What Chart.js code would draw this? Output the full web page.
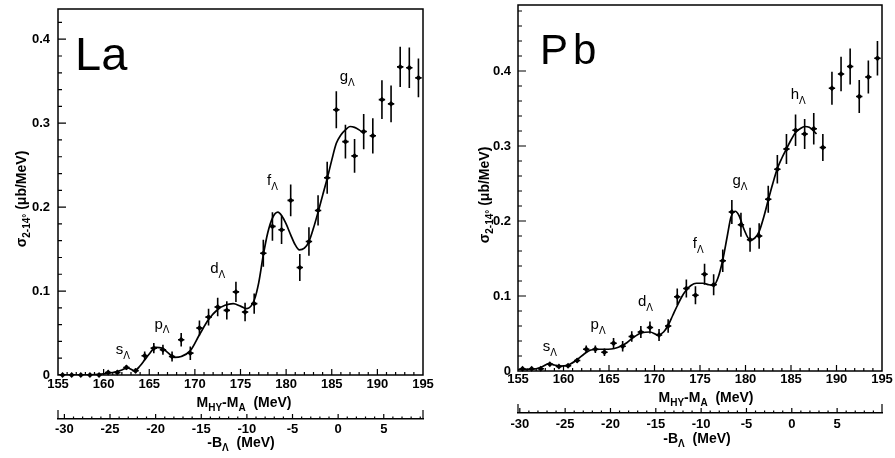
<!DOCTYPE html>
<html>
<head>
<meta charset="utf-8">
<script src="https://cdn.jsdelivr.net/npm/chart.js@4.4.0/dist/chart.umd.min.js"></script>
<style>
    html, body { margin: 0; padding: 0; background: #fff; }
    .row { display: flex; width: 895px; height: 458px; }
    .panel { position: relative; height: 458px; }
</style>
</head>
<body>
<div class="row">
    <div class="panel"><canvas id="la-chart" width="450" height="458"></canvas></div>
    <div class="panel"><canvas id="pb-chart" width="445" height="458"></canvas></div>
</div>
<script>
// 1 MeV bins of the missing-mass spectrum, M_HY - M_A (MeV)
const binCenters = [
    155.5, 156.5, 157.5, 158.5, 159.5, 160.5, 161.5, 162.5, 163.5, 164.5,
    165.5, 166.5, 167.5, 168.5, 169.5, 170.5, 171.5, 172.5, 173.5, 174.5,
    175.5, 176.5, 177.5, 178.5, 179.5, 180.5, 181.5, 182.5, 183.5, 184.5,
    185.5, 186.5, 187.5, 188.5, 189.5, 190.5, 191.5, 192.5, 193.5, 194.5,
];
const binHalfWidth = 0.35;

// labelled ticks
const massTicks = [155, 160, 165, 170, 175, 180, 185, 190, 195];
const bindingTicks = [-30, -25, -20, -15, -10, -5, 0, 5];
const sigmaTicks = [0, 0.1, 0.2, 0.3, 0.4];

// La target: cross section (ub/MeV) and errors
const laSigma = [
    0, 0, 0, 0, 0, 0.003, 0.003, 0.009, 0.005, 0.023,
    0.032, 0.030, 0.022, 0.042, 0.026, 0.056, 0.069, 0.081, 0.077, 0.099,
    0.075, 0.085, 0.145, 0.177, 0.173, 0.208, 0.128, 0.159, 0.196, 0.235,
    0.316, 0.278, 0.261, 0.290, 0.285, 0.328, 0.323, 0.367, 0.366, 0.354,
];
const laErr = [
    0.001, 0.001, 0.001, 0.001, 0.001, 0.002, 0.002, 0.003, 0.003, 0.005,
    0.006, 0.006, 0.006, 0.008, 0.008, 0.009, 0.010, 0.011, 0.011, 0.012,
    0.011, 0.012, 0.016, 0.017, 0.017, 0.019, 0.016, 0.017, 0.018, 0.019,
    0.022, 0.020, 0.020, 0.021, 0.021, 0.023, 0.022, 0.024, 0.024, 0.023,
];
// La fitted curve
const laFitX = [
    155, 157, 159, 160, 161, 162, 162.6, 163.4, 164, 164.5, 165, 165.7, 166.4, 167,
    167.8, 168.5, 169.5, 170.5, 171.5, 172.5, 173.3, 174.2, 175, 175.7, 176.5, 177,
    177.5, 178, 178.5, 179.1, 179.5, 180, 180.5, 181, 181.45, 182, 182.5, 183, 183.5,
    184, 184.5, 185, 185.5, 186, 186.5, 187, 187.5, 188, 188.5,
];
const laFitY = [
    0, 0, 0.0005, 0.0015, 0.003, 0.006, 0.0085, 0.005, 0.011, 0.018, 0.025, 0.033, 0.032, 0.027,
    0.021, 0.022, 0.029, 0.048, 0.066, 0.078, 0.083, 0.085, 0.082, 0.079, 0.089, 0.11,
    0.143, 0.17, 0.187, 0.194, 0.19, 0.18, 0.167, 0.155, 0.149, 0.151, 0.159, 0.175, 0.194,
    0.214, 0.234, 0.256, 0.276, 0.286, 0.292, 0.296, 0.295, 0.292, 0.288,
];
const laShellNames = ['s', 'p', 'd', 'f', 'g'];
const laShellX = [162.1, 166.4, 172.5, 178.5, 186.7];
const laShellY = [0.029, 0.059, 0.125, 0.230, 0.354];

// Pb target
const pbSigma = [
    0.003, 0.003, 0.003, 0.009, 0.006, 0.007, 0.014, 0.029, 0.029, 0.025,
    0.037, 0.033, 0.046, 0.052, 0.058, 0.048, 0.060, 0.099, 0.110, 0.101,
    0.129, 0.115, 0.147, 0.212, 0.195, 0.175, 0.180, 0.229, 0.269, 0.296,
    0.321, 0.316, 0.323, 0.298, 0.377, 0.396, 0.406, 0.366, 0.392, 0.417,
];
const pbErr = [
    0.001, 0.001, 0.001, 0.002, 0.002, 0.002, 0.003, 0.005, 0.005, 0.005,
    0.007, 0.007, 0.007, 0.008, 0.008, 0.008, 0.009, 0.011, 0.012, 0.012,
    0.014, 0.014, 0.015, 0.016, 0.016, 0.016, 0.017, 0.018, 0.019, 0.020,
    0.021, 0.020, 0.021, 0.018, 0.022, 0.023, 0.024, 0.022, 0.022, 0.023,
];
const pbFitX = [
    155, 156, 157, 157.7, 158.4, 159, 159.6, 160.5, 161.5, 162.3, 163, 164, 164.9, 165.6,
    166.3, 167, 167.7, 168.6, 169.5, 170.4, 171, 171.5, 172, 172.5, 173, 173.5, 174,
    174.6, 175.3, 176, 176.5, 177, 177.5, 178, 178.4, 178.85, 179.3, 179.8, 180.5, 181,
    181.5, 182, 182.5, 183, 183.5, 184, 184.5, 185, 185.5, 186, 186.5, 187, 187.5, 187.8,
];
const pbFitY = [
    0.002, 0.002, 0.003, 0.006, 0.010, 0.008, 0.0065, 0.008, 0.015, 0.023, 0.028, 0.029, 0.029, 0.030,
    0.033, 0.038, 0.045, 0.051, 0.052, 0.048, 0.052, 0.061, 0.074, 0.087, 0.099, 0.108, 0.114,
    0.117, 0.117, 0.115, 0.114, 0.125, 0.148, 0.18, 0.205, 0.213, 0.207, 0.19, 0.175, 0.177,
    0.186, 0.205, 0.228, 0.25, 0.27, 0.284, 0.296, 0.308, 0.318, 0.323, 0.326, 0.325, 0.32, 0.316,
];
const pbShellNames = ['s', 'p', 'd', 'f', 'g', 'h'];
const pbShellX = [158.5, 163.8, 169.0, 174.8, 179.4, 185.8];
const pbShellY = [0.031, 0.060, 0.091, 0.168, 0.252, 0.367];

const FAMILY = '"Liberation Sans", Arial, Helvetica, sans-serif';
const tickFont = { family: FAMILY, size: 13, weight: 'bold' };

function verticalBars(sigma, err) {
    const pts = [];
    binCenters.forEach((x, i) => {
        pts.push({ x, y: sigma[i] - err[i] }, { x, y: sigma[i] + err[i] }, { x, y: null });
    });
    return pts;
}

function horizontalBars(sigma) {
    const pts = [];
    binCenters.forEach((x, i) => {
        pts.push({ x: x - binHalfWidth, y: sigma[i] }, { x: x + binHalfWidth, y: sigma[i] }, { x, y: null });
    });
    return pts;
}

function fontStr(size, weight) {
    return `${weight || 'bold'} ${size}px ${FAMILY}`;
}

// text with subscripts, centred on (cx, cy)
function drawRich(ctx, parts, cx, cy, size, weight) {
    const small = Math.round(size * 0.68);
    const widths = parts.map(([t, kind]) => {
        ctx.font = fontStr(kind ? small : size, weight);
        return ctx.measureText(t).width;
    });
    let x = cx - widths.reduce((a, b) => a + b, 0) / 2;
    const base = cy + size * 0.36;
    ctx.textAlign = 'left';
    ctx.textBaseline = 'alphabetic';
    parts.forEach(([t, kind], i) => {
        ctx.font = fontStr(kind ? small : size, weight);
        const dy = kind === 'sub' ? size * 0.3 : 0;
        ctx.fillText(t, x, base + dy);
        x += widths[i];
    });
}

function fixedTicks(values) {
    return scale => { scale.ticks = values.map(value => ({ value })); };
}

function makeDecor(cfg) {
    return {
        id: 'panelDecor',
        afterDraw(chart) {
            const { ctx, chartArea: area, scales } = chart;
            const xs = scales.x, ys = scales.y, bs = scales.binding;
            ctx.save();
            ctx.strokeStyle = '#000';
            ctx.fillStyle = '#000';

            // frame
            ctx.lineWidth = 1.5;
            ctx.strokeRect(area.left, area.top, area.right - area.left, area.bottom - area.top);

            // inward ticks: 1 MeV minor, 5 MeV major
            ctx.lineWidth = 1.2;
            ctx.beginPath();
            for (let k = 1; k < 40; k++) {
                const px = xs.getPixelForValue(155 + k);
                const len = k % 5 === 0 ? 6 : 3;
                ctx.moveTo(px, area.bottom);
                ctx.lineTo(px, area.bottom - len);
            }
            for (let k = 1; k * 0.02 < ys.max; k++) {
                const py = ys.getPixelForValue(k * 0.02);
                const len = k % 5 === 0 ? 8 : 4;
                ctx.moveTo(area.left, py);
                ctx.lineTo(area.left + len, py);
            }
            // binding-energy axis ticks point up from its line
            const by = bs.top;
            for (let v = Math.ceil(bs.min); v <= bs.max; v++) {
                const px = bs.getPixelForValue(v);
                const len = v % 5 === 0 ? 5 : 2.5;
                ctx.moveTo(px, by);
                ctx.lineTo(px, by - len);
            }
            [bs.min, bs.max].forEach(v => {
                const px = bs.getPixelForValue(v);
                ctx.moveTo(px, by);
                ctx.lineTo(px, by - 9);
            });
            ctx.stroke();

            // axis titles
            drawRich(ctx, [['M'], ['HY', 'sub'], ['-M'], ['A', 'sub'], ['  (MeV)']], cfg.xTitleX, cfg.xTitleY, 14);
            drawRich(ctx, [['-B'], ['\u039B', 'sub'], ['  (MeV)']], cfg.bTitleX, cfg.bTitleY, 14);
            ctx.save();
            ctx.translate(cfg.yTitleX, cfg.yTitleY);
            ctx.rotate(-Math.PI / 2);
            drawRich(ctx, [['\u03C3'], ['2-14\u00B0', 'sub'], [' (\u03BCb/MeV)']], 0, 0, 14);
            ctx.restore();

            // shell labels
            cfg.shellNames.forEach((name, i) => {
                const px = xs.getPixelForValue(cfg.shellX[i]);
                const py = ys.getPixelForValue(cfg.shellY[i]);
                drawRich(ctx, [[name], ['\u039B', 'sub']], px, py - 2, 15, 'normal');
            });

            // target nucleus
            ctx.font = fontStr(cfg.tagSize, 'normal');
            ctx.textAlign = 'left';
            ctx.textBaseline = 'alphabetic';
            ctx.letterSpacing = cfg.tagSpacing || '0px';
            ctx.fillText(cfg.tag, cfg.tagX, cfg.tagY);
            ctx.restore();
        },
    };
}

function makePanel(canvasId, data, cfg) {
    const lineStyle = {
        type: 'line',
        borderColor: '#000',
        pointRadius: 0,
        pointHoverRadius: 0,
        fill: false,
        spanGaps: false,
    };
    new Chart(document.getElementById(canvasId), {
        type: 'line',
        data: {
            datasets: [
                {
                    ...lineStyle,
                    data: data.fitX.map((x, i) => ({ x, y: data.fitY[i] })),
                    borderWidth: 1.7,
                    cubicInterpolationMode: 'monotone',
                },
                { ...lineStyle, data: verticalBars(data.sigma, data.err), borderWidth: 1.6 },
                { ...lineStyle, data: horizontalBars(data.sigma), borderWidth: 1.6 },
                {
                    type: 'line',
                    showLine: false,
                    data: binCenters.map((x, i) => ({ x, y: data.sigma[i] })),
                    pointStyle: 'rectRot',
                    pointRadius: 2.9,
                    pointBackgroundColor: '#000',
                    pointBorderWidth: 0,
                    clip: false,
                },
            ],
        },
        options: {
            responsive: false,
            animation: false,
            devicePixelRatio: 1,
            events: [],
            layout: { padding: cfg.padding },
            plugins: { legend: { display: false }, tooltip: { enabled: false } },
            scales: {
                x: {
                    type: 'linear',
                    position: 'bottom',
                    min: 155,
                    max: 195,
                    grid: { drawOnChartArea: false, drawTicks: false },
                    border: { display: false },
                    afterBuildTicks: fixedTicks(massTicks),
                    ticks: {
                        maxRotation: 0, autoSkip: false,
                        color: '#000', font: tickFont, padding: cfg.xTickPad,
                    },
                    afterFit: s => { s.height = cfg.xHeight; s.paddingLeft = 0; s.paddingRight = 0; },
                },
                binding: {
                    type: 'linear',
                    position: 'bottom',
                    min: cfg.bMin,
                    max: cfg.bMax,
                    grid: { drawOnChartArea: false, drawTicks: false },
                    border: { display: true, color: '#000', width: 1.5 },
                    afterBuildTicks: fixedTicks(bindingTicks),
                    ticks: {
                        maxRotation: 0, autoSkip: false,
                        color: '#000', font: tickFont, padding: cfg.bTickPad,
                        callback: v => String(v),
                    },
                    afterFit: s => { s.height = cfg.bHeight; s.paddingLeft = 0; s.paddingRight = 0; },
                },
                y: {
                    type: 'linear',
                    min: 0,
                    max: cfg.yMax,
                    grid: { drawOnChartArea: false, drawTicks: false },
                    border: { display: false },
                    afterBuildTicks: fixedTicks(sigmaTicks),
                    ticks: {
                        color: '#000', font: tickFont, padding: cfg.yTickPad,
                        callback: v => String(v),
                    },
                    afterFit: s => { s.width = cfg.yWidth; s.paddingTop = 0; s.paddingBottom = 0; },
                },
            },
        },
        plugins: [makeDecor(cfg)],
    });
}

makePanel('la-chart',
    { sigma: laSigma, err: laErr, fitX: laFitX, fitY: laFitY },
    {
        padding: { left: 0, right: 27, top: 9, bottom: 0 },
        yWidth: 58, xHeight: 44, bHeight: 39, yMax: 0.436,
        bMin: -30.7, bMax: 9.3,
        xTickPad: 2, bTickPad: 3, yTickPad: 8,
        xTitleX: 244, xTitleY: 402, bTitleX: 241, bTitleY: 442,
        yTitleX: 21, yTitleY: 199,
        shellNames: laShellNames, shellX: laShellX, shellY: laShellY,
        tag: 'La', tagX: 75, tagY: 70, tagSize: 47,
    });

makePanel('pb-chart',
    { sigma: pbSigma, err: pbErr, fitX: pbFitX, fitY: pbFitY },
    {
        padding: { left: 0, right: 13, top: 5, bottom: 0 },
        yWidth: 68, xHeight: 42, bHeight: 45, yMax: 0.488,
        bMin: -30.2, bMax: 9.95,
        xTickPad: 1, bTickPad: 4, yTickPad: 7,
        xTitleX: 256, xTitleY: 397, bTitleX: 247, bTitleY: 438,
        yTitleX: 34, yTitleY: 195,
        shellNames: pbShellNames, shellX: pbShellX, shellY: pbShellY,
        tag: 'Pb', tagX: 90, tagY: 64, tagSize: 42, tagSpacing: '5px',
    });
</script>
</body>
</html>
